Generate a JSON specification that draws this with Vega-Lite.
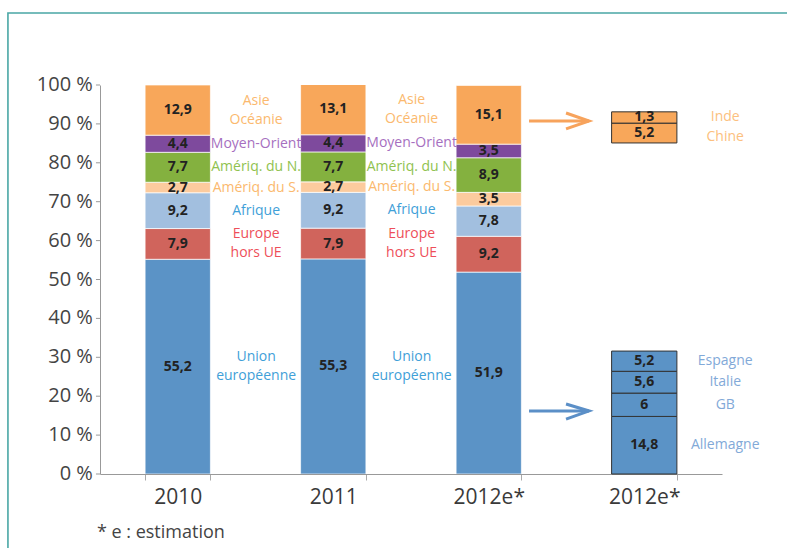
{
  "$schema": "https://vega.github.io/schema/vega-lite/v6.json",
  "width": 622,
  "height": 389,
  "autosize": {"type": "none"},
  "padding": {"left": 100, "top": 85, "right": 65, "bottom": 74},
  "background": "white",
  "config": {
    "view": {"stroke": null},
    "font": "Open Sans",
    "axisY": {"grid": false}
  },
  "datasets": {
    "main": [
      {"col": "2010", "cat": "Union européenne", "v": 55.2, "lab": "55,2", "o": 1, "side": "Union\neuropéenne"},
      {"col": "2010", "cat": "Europe hors UE", "v": 7.9, "lab": "7,9", "o": 2, "side": "Europe\nhors UE"},
      {"col": "2010", "cat": "Afrique", "v": 9.2, "lab": "9,2", "o": 3, "side": "Afrique"},
      {"col": "2010", "cat": "Amériq. du S.", "v": 2.7, "lab": "2,7", "o": 4, "side": "Amériq. du S."},
      {"col": "2010", "cat": "Amériq. du N.", "v": 7.7, "lab": "7,7", "o": 5, "side": "Amériq. du N."},
      {"col": "2010", "cat": "Moyen-Orient", "v": 4.4, "lab": "4,4", "o": 6, "side": "Moyen-Orient"},
      {"col": "2010", "cat": "Asie Océanie", "v": 12.9, "lab": "12,9", "o": 7, "side": "Asie\nOcéanie"},
      {"col": "2011", "cat": "Union européenne", "v": 55.3, "lab": "55,3", "o": 1, "side": "Union\neuropéenne"},
      {"col": "2011", "cat": "Europe hors UE", "v": 7.9, "lab": "7,9", "o": 2, "side": "Europe\nhors UE"},
      {"col": "2011", "cat": "Afrique", "v": 9.2, "lab": "9,2", "o": 3, "side": "Afrique"},
      {"col": "2011", "cat": "Amériq. du S.", "v": 2.7, "lab": "2,7", "o": 4, "side": "Amériq. du S."},
      {"col": "2011", "cat": "Amériq. du N.", "v": 7.7, "lab": "7,7", "o": 5, "side": "Amériq. du N."},
      {"col": "2011", "cat": "Moyen-Orient", "v": 4.4, "lab": "4,4", "o": 6, "side": "Moyen-Orient"},
      {"col": "2011", "cat": "Asie Océanie", "v": 13.1, "lab": "13,1", "o": 7, "side": "Asie\nOcéanie"},
      {"col": "2012e*", "cat": "Union européenne", "v": 51.9, "lab": "51,9", "o": 1, "side": ""},
      {"col": "2012e*", "cat": "Europe hors UE", "v": 9.2, "lab": "9,2", "o": 2, "side": ""},
      {"col": "2012e*", "cat": "Afrique", "v": 7.8, "lab": "7,8", "o": 3, "side": ""},
      {"col": "2012e*", "cat": "Amériq. du S.", "v": 3.5, "lab": "3,5", "o": 4, "side": ""},
      {"col": "2012e*", "cat": "Amériq. du N.", "v": 8.9, "lab": "8,9", "o": 5, "side": ""},
      {"col": "2012e*", "cat": "Moyen-Orient", "v": 3.5, "lab": "3,5", "o": 6, "side": ""},
      {"col": "2012e*", "cat": "Asie Océanie", "v": 15.1, "lab": "15,1", "o": 7, "side": ""}
    ],
    "detail": [
      {"col": "2012e**", "cat": "Allemagne", "lo": 0, "hi": 14.8, "lab": "14,8", "side": "Allemagne"},
      {"col": "2012e**", "cat": "GB", "lo": 14.8, "hi": 20.8, "lab": "6", "side": "GB"},
      {"col": "2012e**", "cat": "Italie", "lo": 20.8, "hi": 26.4, "lab": "5,6", "side": "Italie"},
      {"col": "2012e**", "cat": "Espagne", "lo": 26.4, "hi": 31.6, "lab": "5,2", "side": "Espagne"},
      {"col": "2012e**", "cat": "Chine", "lo": 85.1, "hi": 90.2, "lab": "5,2", "side": "Chine"},
      {"col": "2012e**", "cat": "Inde", "lo": 90.2, "hi": 93.1, "lab": "1,3", "side": "Inde"}
    ],
    "yticks": [
      {"t": 0, "tl": "0 %"}, {"t": 10, "tl": "10 %"}, {"t": 20, "tl": "20 %"}, {"t": 30, "tl": "30 %"},
      {"t": 40, "tl": "40 %"}, {"t": 50, "tl": "50 %"}, {"t": 60, "tl": "60 %"}, {"t": 70, "tl": "70 %"},
      {"t": 80, "tl": "80 %"}, {"t": 90, "tl": "90 %"}, {"t": 100, "tl": "100 %"}
    ],
    "deco": [
      {"k": "orange", "seg": "o1", "ord": 1, "xq": 2.759, "y": 90.75},
      {"k": "orange", "seg": "o1", "ord": 2, "xq": 3.145, "y": 90.75},
      {"k": "orange", "seg": "o2", "ord": 1, "xq": 2.997, "y": 92.8},
      {"k": "orange", "seg": "o2", "ord": 2, "xq": 3.145, "y": 90.75},
      {"k": "orange", "seg": "o2", "ord": 3, "xq": 2.997, "y": 88.7},
      {"k": "blue", "seg": "b1", "ord": 1, "xq": 2.759, "y": 16.2},
      {"k": "blue", "seg": "b1", "ord": 2, "xq": 3.145, "y": 16.2},
      {"k": "blue", "seg": "b2", "ord": 1, "xq": 2.997, "y": 18.0},
      {"k": "blue", "seg": "b2", "ord": 2, "xq": 3.145, "y": 16.2},
      {"k": "blue", "seg": "b2", "ord": 3, "xq": 2.997, "y": 14.1},
      {"k": "frame", "seg": "f", "ord": 1, "xq": -0.592, "y": -20},
      {"k": "frame", "seg": "f", "ord": 2, "xq": -0.592, "y": 118.5},
      {"k": "frame", "seg": "f", "ord": 3, "xq": 4.6, "y": 118.5}
    ],
    "notes": [
      {"xq": -0.02, "y": -15.2, "txt": "* e : estimation"}
    ]
  },
  "layer": [
    {
      "layer": [
        {
          "data": {"name": "main"},
          "transform": [{"stack": "v", "groupby": ["col"], "sort": [{"field": "o", "order": "ascending"}], "as": ["y0", "y1"]}],
          "mark": {"type": "bar", "stroke": "white", "strokeWidth": 0.7, "clip": true},
          "encoding": {
            "x": {
              "field": "col", "type": "nominal",
              "scale": {"domain": ["2010", "2011", "2012e*", "2012e**"], "paddingInner": 0.58, "paddingOuter": 0.29},
              "axis": {"title": null, "labelAngle": 0, "labelFontSize": 21, "labelColor": "#3a3a3a", "labelPadding": 6, "tickSize": 6, "tickColor": "#aaaaaa", "domainColor": "#999999", "tickBand": "extent", "labelExpr": "datum.value == '2012e**' ? '2012e*' : datum.value"}
            },
            "y": {
              "field": "y0", "type": "quantitative",
              "scale": {"domain": [0, 100], "nice": false},
              "axis": {"title": null, "labels": false, "ticks": false, "grid": false, "domainColor": "#999999"}
            },
            "y2": {"field": "y1"},
            "color": {
              "field": "cat", "type": "nominal", "legend": null,
              "scale": {
                "domain": ["Union européenne", "Europe hors UE", "Afrique", "Amériq. du S.", "Amériq. du N.", "Moyen-Orient", "Asie Océanie", "Allemagne", "GB", "Italie", "Espagne", "Chine", "Inde"],
                "range": ["#5b93c6", "#d0645c", "#a2bfdf", "#fccb9e", "#84b13f", "#7e4a9d", "#f8a75a", "#5b93c6", "#5b93c6", "#5b93c6", "#5b93c6", "#f8a75a", "#f8a75a"]
              }
            }
          }
        },
        {
          "data": {"name": "main"},
          "transform": [
            {"stack": "v", "groupby": ["col"], "sort": [{"field": "o", "order": "ascending"}], "as": ["y0", "y1"]},
            {"calculate": "(datum.y0 + datum.y1) / 2", "as": "mid"}
          ],
          "mark": {"type": "text", "fontSize": 14, "fontWeight": "bold", "color": "#222222"},
          "encoding": {
            "x": {"field": "col", "type": "nominal"},
            "y": {"field": "mid", "type": "quantitative"},
            "text": {"field": "lab"}
          }
        },
        {
          "data": {"name": "main"},
          "transform": [
            {"stack": "v", "groupby": ["col"], "sort": [{"field": "o", "order": "ascending"}], "as": ["y0", "y1"]},
            {"calculate": "(datum.y0 + datum.y1) / 2", "as": "mid"},
            {"filter": "datum.col != '2012e*' && indexof(datum.side, '\\n') < 0"}
          ],
          "mark": {"type": "text", "fontSize": 14, "align": "center", "baseline": "middle"},
          "encoding": {
            "x": {"field": "col", "type": "nominal", "bandPosition": 1.7},
            "y": {"field": "mid", "type": "quantitative"},
            "text": {"field": "side"},
            "fill": {
              "field": "cat", "type": "nominal", "legend": null,
              "scale": {
                "domain": ["Union européenne", "Europe hors UE", "Afrique", "Amériq. du S.", "Amériq. du N.", "Moyen-Orient", "Asie Océanie", "Allemagne", "GB", "Italie", "Espagne", "Chine", "Inde"],
                "range": ["#3fa0d8", "#ee4f5a", "#3fa0d8", "#fbb96e", "#8fc24f", "#a66fc0", "#fbb96e", "#82a9d8", "#82a9d8", "#82a9d8", "#82a9d8", "#fcc07e", "#fcc07e"]
              }
            }
          }
        },
        {
          "data": {"name": "main"},
          "transform": [
            {"stack": "v", "groupby": ["col"], "sort": [{"field": "o", "order": "ascending"}], "as": ["y0", "y1"]},
            {"calculate": "(datum.y0 + datum.y1) / 2", "as": "mid"},
            {"filter": "datum.col != '2012e*' && indexof(datum.side, '\\n') >= 0"}
          ],
          "mark": {"type": "text", "fontSize": 14, "lineBreak": "\n", "lineHeight": 19, "align": "center", "baseline": "middle", "dy": -9.5},
          "encoding": {
            "x": {"field": "col", "type": "nominal", "bandPosition": 1.7},
            "y": {"field": "mid", "type": "quantitative"},
            "text": {"field": "side"},
            "fill": {"field": "cat", "type": "nominal", "legend": null}
          }
        },
        {
          "data": {"name": "detail"},
          "mark": {"type": "bar", "stroke": "#333333", "strokeWidth": 1},
          "encoding": {
            "x": {"field": "col", "type": "nominal"},
            "y": {"field": "lo", "type": "quantitative"},
            "y2": {"field": "hi"},
            "color": {"field": "cat", "type": "nominal", "legend": null}
          }
        },
        {
          "data": {"name": "detail"},
          "transform": [{"calculate": "(datum.lo + datum.hi) / 2", "as": "mid"}],
          "mark": {"type": "text", "fontSize": 14, "fontWeight": "bold", "color": "#222222"},
          "encoding": {
            "x": {"field": "col", "type": "nominal"},
            "y": {"field": "mid", "type": "quantitative"},
            "text": {"field": "lab"}
          }
        },
        {
          "data": {"name": "detail"},
          "transform": [{"calculate": "(datum.lo + datum.hi) / 2", "as": "mid"}, {"filter": "datum.cat != 'Chine'"}],
          "mark": {"type": "text", "fontSize": 14, "align": "center", "baseline": "middle"},
          "encoding": {
            "x": {"field": "col", "type": "nominal", "bandPosition": 1.74},
            "y": {"field": "mid", "type": "quantitative"},
            "text": {"field": "side"},
            "fill": {"field": "cat", "type": "nominal", "legend": null}
          }
        },
        {
          "data": {"name": "detail"},
          "transform": [{"calculate": "(datum.lo + datum.hi) / 2", "as": "mid"}, {"filter": "datum.cat == 'Chine'"}],
          "mark": {"type": "text", "fontSize": 14, "align": "center", "baseline": "middle", "dy": 4},
          "encoding": {
            "x": {"field": "col", "type": "nominal", "bandPosition": 1.74},
            "y": {"field": "mid", "type": "quantitative"},
            "text": {"field": "side"},
            "fill": {"field": "cat", "type": "nominal", "legend": null}
          }
        }
      ]
    },
    {
      "layer": [
        {
          "data": {"name": "deco"},
          "transform": [{"filter": "datum.k == 'orange'"}],
          "mark": {"type": "line", "color": "#f7a35c", "strokeWidth": 3, "clip": false},
          "encoding": {
            "x": {"field": "xq", "type": "quantitative", "scale": {"domain": [0, 4], "nice": false, "zero": false}, "axis": null},
            "y": {"field": "y", "type": "quantitative"},
            "detail": {"field": "seg"},
            "order": {"field": "ord"}
          }
        },
        {
          "data": {"name": "deco"},
          "transform": [{"filter": "datum.k == 'blue'"}],
          "mark": {"type": "line", "color": "#5b8fc7", "strokeWidth": 3, "clip": false},
          "encoding": {
            "x": {"field": "xq", "type": "quantitative"},
            "y": {"field": "y", "type": "quantitative"},
            "detail": {"field": "seg"},
            "order": {"field": "ord"}
          }
        },
        {
          "data": {"name": "deco"},
          "transform": [{"filter": "datum.k == 'frame'"}],
          "mark": {"type": "line", "color": "#4aa7a5", "strokeWidth": 1.6, "clip": false},
          "encoding": {
            "x": {"field": "xq", "type": "quantitative"},
            "y": {"field": "y", "type": "quantitative"},
            "detail": {"field": "seg"},
            "order": {"field": "ord"}
          }
        },
        {
          "data": {"name": "yticks"},
          "mark": {"type": "rule", "color": "#999999", "strokeWidth": 1, "clip": false},
          "encoding": {
            "x": {"datum": -0.026},
            "x2": {"datum": 0},
            "y": {"field": "t", "type": "quantitative"}
          }
        },
        {
          "data": {"name": "yticks"},
          "mark": {"type": "text", "fontSize": 20, "color": "#444444", "align": "right", "baseline": "middle", "clip": false},
          "encoding": {
            "x": {"datum": -0.046},
            "y": {"field": "t", "type": "quantitative"},
            "text": {"field": "tl"}
          }
        },
        {
          "data": {"name": "notes"},
          "mark": {"type": "text", "fontSize": 18, "color": "#444444", "align": "left", "baseline": "middle", "clip": false},
          "encoding": {
            "x": {"field": "xq", "type": "quantitative"},
            "y": {"field": "y", "type": "quantitative"},
            "text": {"field": "txt"}
          }
        }
      ]
    }
  ],
  "resolve": {"scale": {"x": "independent"}}
}
